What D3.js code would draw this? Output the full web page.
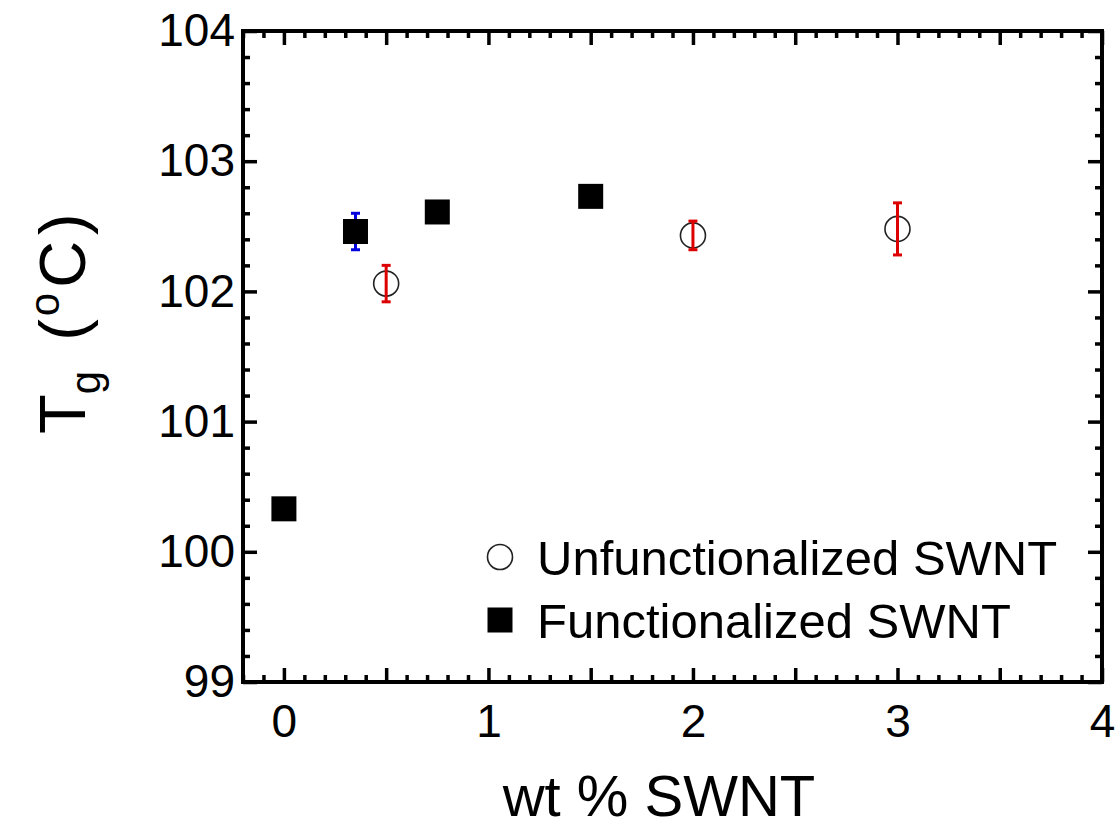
<!DOCTYPE html>
<html>
<head>
<meta charset="utf-8">
<script src="https://cdn.jsdelivr.net/npm/d3@7"></script>
<style>
  body { margin: 0; background: #fff; }
  text { font-family: "Liberation Sans", Arial, sans-serif; fill: #000; }
</style>
</head>
<body>
<div id="chart"></div>
<script>
// Functionalized SWNT (filled squares)
var funcX = [0, 0.35, 0.75, 1.5];
var funcY = [100.33, 102.46, 102.61, 102.73];
var funcErr = [0, 0.14, 0, 0];

// Unfunctionalized SWNT (open circles)
var unfuncX = [0.5, 2, 3];
var unfuncY = [102.06, 102.43, 102.48];
var unfuncErr = [0.14, 0.11, 0.20];

var xTickLabels = [0, 1, 2, 3, 4];
var yTickLabels = [99, 100, 101, 102, 103, 104];
var legendLabels = ['Unfunctionalized SWNT', 'Functionalized SWNT'];

var width = 1117,
    height = 830,
    margin = { left: 243, top: 31, right: 15, bottom: 148 };

var chartWidth = width - margin.left - margin.right;
var chartHeight = height - margin.top - margin.bottom;

var svg = d3.select('#chart').append('svg')
    .attr('width', width)
    .attr('height', height);

var g = svg.append('g')
    .attr('transform', 'translate(' + margin.left + ',' + margin.top + ')');

var xScale = d3.scaleLinear().domain([-0.2, 4]).range([0, chartWidth]);
var yScale = d3.scaleLinear().domain([99, 104]).range([chartHeight, 0]);

var xMajor = d3.range(0, 4.01, 0.5);
var xMinor = d3.range(-0.2, 4.01, 0.1).map(d => +d.toFixed(2)).filter(d => Math.abs(d * 2 - Math.round(d * 2)) > 1e-6);
var yMinor = d3.range(99, 104.01, 0.2).map(d => +d.toFixed(2)).filter(d => Math.abs(d - Math.round(d)) > 1e-6);

var fmtX = d => xTickLabels.indexOf(d) >= 0 ? d : '';

// axes with inward ticks on all four sides
function styleAxis(sel) {
  sel.select('.domain').remove();
  sel.selectAll('line').attr('stroke', '#000').attr('stroke-width', 3.5);
  sel.selectAll('text').style('font-size', '46px');
}

g.append('g').attr('transform', 'translate(0,' + chartHeight + ')')
  .call(d3.axisBottom(xScale).tickValues(xMajor).tickSize(-14).tickPadding(22).tickFormat(fmtX))
  .call(styleAxis);
g.append('g').attr('transform', 'translate(0,' + chartHeight + ')')
  .call(d3.axisBottom(xScale).tickValues(xMinor).tickSize(-7).tickFormat(''))
  .call(styleAxis);
g.append('g')
  .call(d3.axisTop(xScale).tickValues(xMajor).tickSize(-14).tickFormat(''))
  .call(styleAxis);
g.append('g')
  .call(d3.axisTop(xScale).tickValues(xMinor).tickSize(-7).tickFormat(''))
  .call(styleAxis);

g.append('g')
  .call(d3.axisLeft(yScale).tickValues(yTickLabels).tickSize(-14).tickPadding(8).tickFormat(d3.format('d')))
  .call(styleAxis);
g.append('g')
  .call(d3.axisLeft(yScale).tickValues(yMinor).tickSize(-7).tickFormat(''))
  .call(styleAxis);
g.append('g').attr('transform', 'translate(' + chartWidth + ',0)')
  .call(d3.axisRight(yScale).tickValues(yTickLabels).tickSize(-14).tickFormat(''))
  .call(styleAxis);
g.append('g').attr('transform', 'translate(' + chartWidth + ',0)')
  .call(d3.axisRight(yScale).tickValues(yMinor).tickSize(-7).tickFormat(''))
  .call(styleAxis);

// frame
g.append('rect')
  .attr('x', 0).attr('y', 0)
  .attr('width', chartWidth).attr('height', chartHeight)
  .attr('fill', 'none').attr('stroke', '#000').attr('stroke-width', 4);

var funcData = funcX.map((x, i) => ({ x: x, y: funcY[i], e: funcErr[i] }));
var unfuncData = unfuncX.map((x, i) => ({ x: x, y: unfuncY[i], e: unfuncErr[i] }));

function errorBars(sel, data, color) {
  var eb = sel.selectAll(null).data(data.filter(d => d.e > 0)).enter().append('g');
  eb.append('line')
    .attr('x1', d => xScale(d.x)).attr('x2', d => xScale(d.x))
    .attr('y1', d => yScale(d.y - d.e)).attr('y2', d => yScale(d.y + d.e));
  eb.append('line')
    .attr('x1', d => xScale(d.x) - 4.5).attr('x2', d => xScale(d.x) + 4.5)
    .attr('y1', d => yScale(d.y + d.e)).attr('y2', d => yScale(d.y + d.e));
  eb.append('line')
    .attr('x1', d => xScale(d.x) - 4.5).attr('x2', d => xScale(d.x) + 4.5)
    .attr('y1', d => yScale(d.y - d.e)).attr('y2', d => yScale(d.y - d.e));
  eb.selectAll('line').attr('stroke', color).attr('stroke-width', 3);
}

// blue error bars sit behind the squares
errorBars(g, funcData, '#0000dd');

g.selectAll('rect.func').data(funcData).enter().append('rect')
  .attr('class', 'func')
  .attr('x', d => xScale(d.x) - 12.5)
  .attr('y', d => yScale(d.y) - 12.5)
  .attr('width', 25).attr('height', 25)
  .attr('fill', '#000');

g.selectAll('circle.unfunc').data(unfuncData).enter().append('circle')
  .attr('class', 'unfunc')
  .attr('cx', d => xScale(d.x))
  .attr('cy', d => yScale(d.y))
  .attr('r', 12.5)
  .attr('fill', 'none')
  .attr('stroke', '#222')
  .attr('stroke-width', 1.6);

errorBars(g, unfuncData, '#dd0000');

// legend
var legend = svg.append('g').attr('transform', 'translate(500,557)');
legend.append('circle').attr('cx', 0).attr('cy', 0).attr('r', 12.5)
  .attr('fill', 'none').attr('stroke', '#222').attr('stroke-width', 1.6);
legend.append('rect').attr('x', -12.5).attr('y', 63 - 12.5).attr('width', 25).attr('height', 25)
  .attr('fill', '#000');
legend.selectAll('text.leg').data(legendLabels).enter().append('text')
  .attr('class', 'leg')
  .attr('x', 37)
  .attr('y', (d, i) => i * 63)
  .attr('dy', '0.36em')
  .style('font-size', '49px')
  .text(d => d);

// axis titles
svg.append('text')
  .attr('x', 659)
  .attr('y', 816)
  .attr('text-anchor', 'middle')
  .style('font-size', '58px')
  .text('wt % SWNT');

var yTitle = svg.append('text')
  .attr('transform', 'translate(85,434) rotate(-90)')
  .attr('text-anchor', 'start')
  .style('font-size', '65px');
yTitle.append('tspan').text('T');
yTitle.append('tspan').attr('dy', 15).style('font-size', '42px').text('g');
yTitle.append('tspan').attr('dy', -15).attr('dx', 12).text(' (');
yTitle.append('tspan').attr('dy', -26).attr('dx', 3).style('font-size', '42px').text('o');
yTitle.append('tspan').attr('dy', 26).attr('dx', 5).style('letter-spacing', '6px').text('C)');
</script>
</body>
</html>
